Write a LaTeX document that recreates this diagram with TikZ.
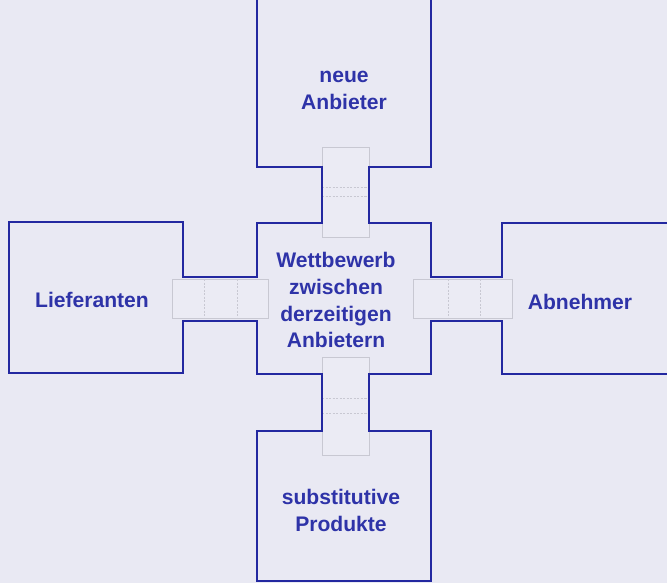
\documentclass[tikz,border=0pt]{standalone}
\usepackage{fontspec}
\setmainfont{Liberation Sans}
\definecolor{paper}{HTML}{E9E9F3}
\definecolor{ink}{HTML}{2328A0}
\definecolor{txt}{HTML}{2E33A8}
\definecolor{pipeline}{HTML}{C8C8D2}
\begin{document}
\begin{tikzpicture}[x=0.03cm,y=-0.03cm,
  boxtext/.style={font=\bfseries\fontsize{18}{23}\selectfont, text=txt, align=center, inner sep=0pt},
  pipebox/.style={draw=pipeline, line width=0.45pt, fill=white, fill opacity=0.12, draw opacity=1},
  pipeseg/.style={draw=pipeline, line width=0.45pt, dash pattern=on 2pt off 1pt},
  outline/.style={draw=ink, line width=2.4pt, line join=miter}
]
\useasboundingbox (0,0) rectangle (667,583);
\clip (0,0) rectangle (667,583);
\fill[paper] (0,0) rectangle (667,583);

% connecting pipes between the forces
\draw[pipebox] (322,147) rectangle (369,237);
\draw[pipeseg] (322,187) -- (369,187) (322,196) -- (369,196);
\draw[pipebox] (322,357) rectangle (369,455);
\draw[pipeseg] (322,398) -- (369,398) (322,413) -- (369,413);
\draw[pipebox] (172,279) rectangle (268,318);
\draw[pipeseg] (204,279) -- (204,318) (237,279) -- (237,318);
\draw[pipebox] (413,279) rectangle (512,318);
\draw[pipeseg] (448,279) -- (448,318) (480,279) -- (480,318);

% common outline of the five boxes
\draw[outline]
  (257,-5) -- (431,-5) -- (431,167) -- (369,167) -- (369,223)
  -- (431,223) -- (431,277) -- (502,277) -- (502,223) -- (675,223)
  -- (675,374) -- (502,374) -- (502,321) -- (431,321) -- (431,374)
  -- (369,374) -- (369,431) -- (431,431) -- (431,581) -- (257,581)
  -- (257,431) -- (322,431) -- (322,374) -- (257,374) -- (257,321)
  -- (183,321) -- (183,373) -- (9,373) -- (9,222) -- (183,222)
  -- (183,277) -- (257,277) -- (257,223) -- (322,223) -- (322,167)
  -- (257,167) -- cycle;

% labels
\node[boxtext] (neu) at (344,90) {neue\\Anbieter};
\node[boxtext] (wett) at (336,300) {Wettbewerb\\zwischen\\derzeitigen\\Anbietern};
\node[boxtext] (lief) at (92,300) {Lieferanten};
\node[boxtext] (abn) at (580,302) {Abnehmer};
\node[boxtext] (subst) at (341,510) {substitutive\\Produkte};
\end{tikzpicture}
\end{document}
